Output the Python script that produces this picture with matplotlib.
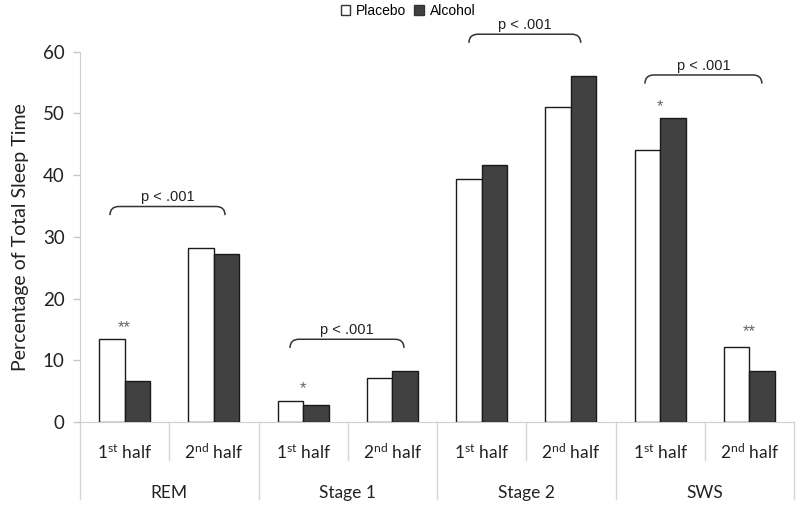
import matplotlib
matplotlib.use("Agg")
import matplotlib.pyplot as plt
from matplotlib.patches import Patch, PathPatch
from matplotlib.path import Path
import matplotlib.transforms as mtransforms

# ---- data ----
stages = ["REM", "Stage 1", "Stage 2", "SWS"]
halves = ["1st half", "2nd half"]
placebo = [13.4, 28.2, 3.45, 7.2, 39.3, 51.0, 44.0, 12.2]
alcohol = [6.6, 27.2, 2.7, 8.3, 41.7, 56.1, 49.2, 8.3]
yticks = [0, 10, 20, 30, 40, 50, 60]
# significance marks: (category index, label, y)
stars = [(0, "**", 14.0), (2, "*", 4.2), (6, "*", 49.9), (7, "**", 13.5)]
# brackets: (x_left, x_right, y_top, label)
brackets = [(-0.164, 1.125, 34.9, "p < .001"),
            (1.853, 3.13, 13.4, "p < .001"),
            (3.858, 5.11, 62.8, "p < .001"),
            (5.83, 7.14, 56.2, "p < .001")]

plt.rcParams['mathtext.fontset'] = 'custom'
plt.rcParams['mathtext.rm'] = 'Lato'
plt.rcParams['mathtext.it'] = 'Lato'

fig = plt.figure(figsize=(8, 5.09), dpi=100)
ax = fig.add_axes([0.1, 0.1709, 0.8925, 0.7279])

n = len(placebo)
xs = list(range(n))
w = 0.286
ax.bar([x - w / 2 for x in xs], placebo, width=w, color="white",
       edgecolor="#1a1a1a", linewidth=1.0, zorder=3)
ax.bar([x + w / 2 for x in xs], alcohol, width=w, color="#414141",
       edgecolor="#1a1a1a", linewidth=1.0, zorder=3)

ax.set_xlim(-0.5, n - 0.5)
ax.set_ylim(0, 60)
ax.set_yticks(yticks)
ax.set_yticklabels([str(t) for t in yticks], fontsize=13.5, family="Lato", color="#222222")
ax.tick_params(axis="y", direction="out", length=5, color="#c8c8c8", width=1, pad=6)
ax.tick_params(axis="x", length=0)
ax.set_xticks([])
for s in ["top", "right"]:
    ax.spines[s].set_visible(False)
ax.spines["left"].set_color("#cfcfcf")
ax.spines["bottom"].set_color("#cfcfcf")
ax.spines["left"].set_bounds(0, 60)

ax.set_ylabel("Percentage of Total Sleep Time", fontsize=14, family="Lato",
              color="#222222", labelpad=10)

trans = mtransforms.blended_transform_factory(ax.transData, ax.transAxes)
# separator lines
for i in range(n + 1):
    xb = i - 0.5
    long = (i % 2 == 0)
    y1 = -0.207 if long else -0.103
    ax.plot([xb, xb], [0, y1], transform=trans, color="#d6d6d6", lw=1,
            clip_on=False, zorder=1)

# category labels
sup = {"1st half": r"1$^{\mathrm{st}}$ half", "2nd half": r"2$^{\mathrm{nd}}$ half"}
for i in range(n):
    lab = halves[i % 2]
    ax.text(i, -0.083, sup[lab], transform=trans, ha="center", va="center",
            fontsize=12.5, family="Lato", color="#222222")
for g, st in enumerate(stages):
    ax.text(2 * g + 0.5, -0.192, st, transform=trans, ha="center", va="center",
            fontsize=12.5, family="Lato", color="#222222")

# stars
for idx, lab, yv in stars:
    ax.text(idx, yv, lab, ha="center", va="bottom", fontsize=12,
            family="Liberation Sans", color="#666666")

# brackets
for x0, x1, yt, lab in brackets:
    rx, ry = 0.1, 1.4
    verts = [(x0, yt - ry), (x0, yt), (x0 + rx, yt),
             (x1 - rx, yt),
             (x1, yt), (x1, yt - ry)]
    codes = [Path.MOVETO, Path.CURVE3, Path.CURVE3, Path.LINETO,
             Path.CURVE3, Path.CURVE3]
    pp = PathPatch(Path(verts, codes), fill=False, edgecolor="#333333",
                   lw=1.1, clip_on=False)
    ax.add_patch(pp)
    ax.text((x0 + x1) / 2, yt + 0.4, lab, ha="center", va="bottom",
            fontsize=10.5, family="Liberation Sans", color="#222222")

# legend
handles = [Patch(facecolor="white", edgecolor="#333333", lw=1.0, label="Placebo"),
           Patch(facecolor="#414141", edgecolor="#333333", lw=1.0, label="Alcohol")]
fig.legend(handles=handles, loc="center", bbox_to_anchor=(0.51, 0.978), ncol=2,
           frameon=False, handlelength=0.7, handleheight=0.7, handletextpad=0.4,
           columnspacing=0.6, prop={"family": "Liberation Sans", "size": 10})

fig.savefig("out.png", dpi=100)
